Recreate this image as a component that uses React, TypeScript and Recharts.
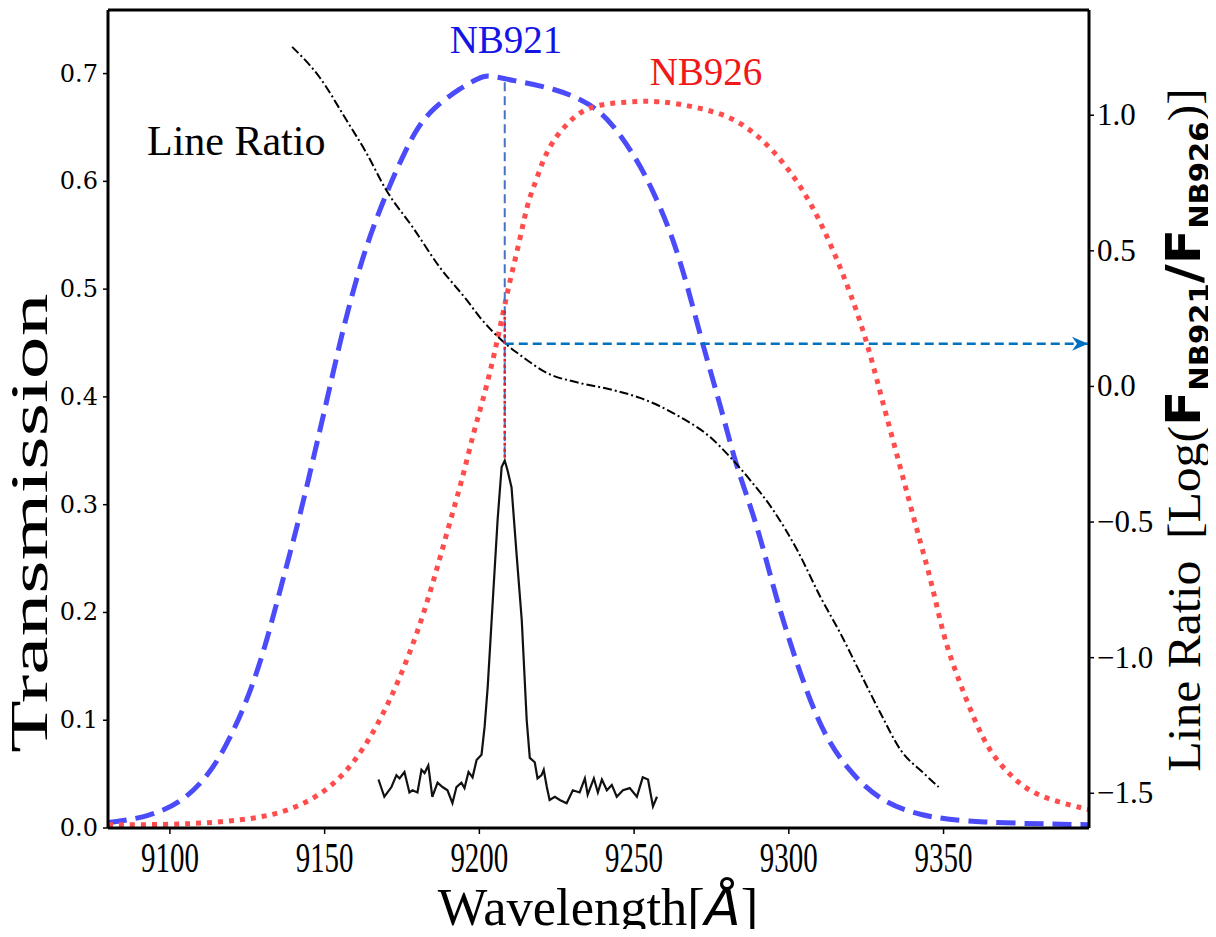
import React from 'react';
import { ComposedChart, Line, XAxis, YAxis, ReferenceLine, Customized } from 'recharts';

// ---------- data ----------
const xTicks = [9100, 9150, 9200, 9250, 9300, 9350];
const leftTicks = [0, 0.1, 0.2, 0.3, 0.4, 0.5, 0.6, 0.7];
const rightTicks = [-1.5, -1.0, -0.5, 0, 0.5, 1.0];

const nb921Wave = [9080, 9093, 9104, 9113, 9120, 9126, 9131, 9136, 9142, 9147, 9151, 9155, 9162, 9170, 9176, 9180, 9185, 9194, 9200, 9202.5, 9210, 9225, 9236, 9243, 9251, 9256, 9262, 9267, 9272, 9279, 9283, 9290, 9296, 9304, 9311, 9319, 9329, 9342, 9360, 9397];
const nb921Trans = [0.005, 0.010, 0.024, 0.050, 0.086, 0.126, 0.170, 0.225, 0.289, 0.351, 0.400, 0.452, 0.530, 0.590, 0.628, 0.650, 0.668, 0.687, 0.696, 0.699, 0.694, 0.686, 0.672, 0.654, 0.620, 0.592, 0.552, 0.506, 0.450, 0.381, 0.335, 0.280, 0.211, 0.140, 0.088, 0.054, 0.026, 0.011, 0.005, 0.003];

const nb926Wave = [9080, 9099, 9115, 9131, 9142, 9152.5, 9161, 9168, 9174, 9180, 9185, 9190, 9195, 9198, 9201, 9204.4, 9206.5, 9209.2, 9211, 9213, 9214.6, 9216.3, 9218.4, 9220.6, 9223.3, 9226, 9229, 9232, 9236, 9241, 9249, 9258, 9270, 9282, 9292, 9300.5, 9308, 9314.4, 9320, 9325.4, 9329.6, 9336, 9341.6, 9346, 9350, 9354.5, 9360, 9365, 9372, 9380, 9397];
const nb926Trans = [0.003, 0.003, 0.005, 0.010, 0.020, 0.038, 0.066, 0.100, 0.137, 0.181, 0.227, 0.279, 0.329, 0.366, 0.395, 0.434, 0.462, 0.499, 0.521, 0.545, 0.567, 0.586, 0.601, 0.620, 0.635, 0.646, 0.655, 0.663, 0.669, 0.672, 0.674, 0.675, 0.669, 0.660, 0.638, 0.610, 0.576, 0.536, 0.496, 0.450, 0.403, 0.335, 0.274, 0.230, 0.177, 0.140, 0.100, 0.070, 0.047, 0.029, 0.017];

const ratioWave = [9139.5, 9148.3, 9157, 9163.5, 9169.9, 9178.4, 9187.1, 9195.9, 9200.1, 9208.2, 9214, 9221.8, 9232.4, 9243.1, 9251.9, 9264.8, 9274.5, 9281, 9287.5, 9294.9, 9302.7, 9310.2, 9316.6, 9323.1, 9329.6, 9336.1, 9343.5, 9348.4];
const ratioValue = [1.252, 1.141, 0.983, 0.861, 0.724, 0.588, 0.441, 0.319, 0.256, 0.160, 0.109, 0.050, 0.013, -0.013, -0.042, -0.112, -0.186, -0.260, -0.345, -0.455, -0.603, -0.776, -0.909, -1.057, -1.204, -1.340, -1.425, -1.477];

const specWave = [9167.4, 9169.3, 9171.6, 9173.2, 9174.2, 9175.8, 9177.4, 9178.4, 9180.0, 9181.3, 9182.3, 9183.5, 9184.8, 9186.5, 9188.1, 9189.7, 9191.3, 9192.6, 9194.2, 9195.2, 9196.5, 9197.8, 9199.1, 9200.7, 9201.7, 9202.7, 9204.3, 9205.9, 9207.2, 9208.2, 9209.1, 9210.4, 9212.0, 9213.7, 9215.3, 9216.3, 9217.9, 9218.8, 9220.1, 9220.8, 9221.8, 9222.7, 9224.4, 9226.0, 9228.2, 9230.2, 9232.4, 9234.1, 9235.0, 9237.0, 9238.3, 9239.6, 9241.2, 9242.8, 9244.4, 9246.4, 9248.6, 9250.9, 9252.8, 9254.5, 9256.1, 9257.4];
const specFlux = [0.045, 0.029, 0.038, 0.049, 0.046, 0.052, 0.033, 0.035, 0.033, 0.054, 0.051, 0.058, 0.029, 0.042, 0.038, 0.035, 0.023, 0.038, 0.042, 0.037, 0.052, 0.047, 0.063, 0.068, 0.094, 0.131, 0.209, 0.286, 0.335, 0.341, 0.332, 0.316, 0.255, 0.193, 0.100, 0.065, 0.061, 0.046, 0.049, 0.054, 0.038, 0.026, 0.029, 0.026, 0.023, 0.035, 0.033, 0.046, 0.031, 0.046, 0.033, 0.045, 0.035, 0.040, 0.029, 0.035, 0.037, 0.029, 0.047, 0.045, 0.020, 0.029];

const markerWave = [9208.2, 9208.2];
const markerBlue = [0.692, 0.342];
const markerRed = [0.48, 0.342];
const arrowWave = [9208.2, 9397];
const arrowRatio = [0.157, 0.157];

const zip = (xs: number[], ys: number[]) => xs.map((x, i) => ({ x, y: ys[i] }));

const nb921Data = zip(nb921Wave, nb921Trans);
const nb926Data = zip(nb926Wave, nb926Trans);
const ratioData = zip(ratioWave, ratioValue);
const specData = zip(specWave, specFlux);
const markerBlueData = zip(markerWave, markerBlue);
const markerRedData = zip(markerWave, markerRed);
const arrowData = zip(arrowWave, arrowRatio);

const X_DOMAIN: [number, number] = [9080, 9397];
const LEFT_DOMAIN: [number, number] = [0, 0.759];
const RIGHT_DOMAIN: [number, number] = [-1.628, 1.388];

const SERIF = "'Liberation Serif', 'Times New Roman', serif";

// ---------- ticks ----------
const XTick = (props: any) => {
  const { x, y, payload } = props;
  return (
    <text
      x={0}
      y={0}
      transform={`translate(${x},${y + 36}) scale(0.69,1)`}
      textAnchor="middle"
      fontFamily={SERIF}
      fontSize={42}
      fill="#000"
    >
      {payload.value}
    </text>
  );
};

const LeftTick = (props: any) => {
  const { x, y, payload } = props;
  return (
    <text x={x - 5} y={y + 8} textAnchor="end" fontFamily="'DejaVu Serif', serif" fontSize={24} fill="#000">
      {Number(payload.value).toFixed(1)}
    </text>
  );
};

const fmtRight = (v: number) => (v < 0 ? '\u2212' + Math.abs(v).toFixed(1) : v.toFixed(1));

const RightTick = (props: any) => {
  const { x, y, payload } = props;
  return (
    <text x={x + 3} y={y + 10} textAnchor="start" fontFamily={SERIF} fontSize={31} fill="#000">
      {fmtRight(Number(payload.value))}
    </text>
  );
};

const ArrowDot = (props: any) => {
  const { cx, cy, index } = props;
  if (index !== arrowData.length - 1) return <g key={`a${index}`} />;
  return <path key={`a${index}`} d={`M${cx - 1},${cy} l-16,-7 l5,7 l-5,7 z`} fill="#0070c0" />;
};

const Annotations = () => (
  <g>
    <text x={147} y={155} fontFamily={SERIF} fontSize={42} fill="#000">Line Ratio</text>
    <text x={506} y={53} textAnchor="middle" fontFamily={SERIF} fontSize={39} fill="#1414e6">NB921</text>
    <text x={706} y={85} textAnchor="middle" fontFamily={SERIF} fontSize={39} fill="#f01818">NB926</text>
    <text
      transform="translate(47,523) rotate(-90) scale(1.65,1)"
      textAnchor="middle"
      fontFamily={SERIF}
      fontSize={52}
      fill="#000"
    >
      Transmission
    </text>
    <text
      transform="translate(598,925) scale(1.01,1)"
      textAnchor="middle"
      fontFamily={SERIF}
      fontSize={52}
      fill="#000"
    >
      Wavelength[<tspan fontFamily="'DejaVu Sans', sans-serif" fontStyle="italic">Å</tspan>]
    </text>
    <text
      transform="translate(1200,430) rotate(-90) scale(1.08,1)"
      textAnchor="middle"
      fontFamily={SERIF}
      fontSize={46}
      fill="#000"
    >
      <tspan>Line Ratio</tspan>
      <tspan dx={20}>[Log(</tspan>
      <tspan fontFamily="'DejaVu Sans', sans-serif" fontWeight="bold" fontSize={48}>F</tspan>
      <tspan fontFamily="'DejaVu Sans', sans-serif" fontWeight="bold" fontSize={27} dy={9}>NB921</tspan>
      <tspan fontFamily="'DejaVu Sans', sans-serif" fontWeight="bold" fontSize={48} dy={-9}>/F</tspan>
      <tspan fontFamily="'DejaVu Sans', sans-serif" fontWeight="bold" fontSize={27} dy={9}>NB926</tspan>
      <tspan dy={-9}>)]</tspan>
    </text>
  </g>
);

export default function App() {
  return (
    <div style={{ margin: -8, width: 1216, height: 937, background: '#fff' }}>
      <ComposedChart width={1216} height={937} margin={{ top: 10, right: 0, bottom: 0, left: 0 }}>
        <XAxis
          type="number"
          dataKey="x"
          domain={X_DOMAIN}
          allowDataOverflow
          ticks={xTicks}
          height={109}
          tick={<XTick />}
          tickSize={6}
          tickLine={{ stroke: '#000', strokeWidth: 1.5 }}
          axisLine={{ stroke: '#000', strokeWidth: 3 }}
        />
        <YAxis
          yAxisId="left"
          type="number"
          dataKey="y"
          domain={LEFT_DOMAIN}
          allowDataOverflow
          ticks={leftTicks}
          width={108}
          tick={<LeftTick />}
          tickSize={5}
          tickMargin={0}
          tickLine={{ stroke: '#000', strokeWidth: 1.5 }}
          axisLine={{ stroke: '#000', strokeWidth: 3 }}
        />
        <YAxis
          yAxisId="right"
          orientation="right"
          type="number"
          dataKey="y"
          domain={RIGHT_DOMAIN}
          allowDataOverflow
          ticks={rightTicks}
          width={127}
          tick={<RightTick />}
          tickSize={5}
          tickMargin={0}
          tickLine={{ stroke: '#000', strokeWidth: 1.5 }}
          axisLine={{ stroke: '#000', strokeWidth: 3 }}
        />
        <ReferenceLine yAxisId="left" y={LEFT_DOMAIN[1]} stroke="#000" strokeWidth={3} />

        <Line
          yAxisId="left"
          data={nb921Data}
          dataKey="y"
          type="basis"
          stroke="#4b4bfa"
          strokeWidth={5}
          strokeDasharray="19 9"
          dot={false}
          activeDot={false}
          isAnimationActive={false}
        />
        <Line
          yAxisId="left"
          data={nb926Data}
          dataKey="y"
          type="basis"
          stroke="#ff4d4d"
          strokeWidth={5}
          strokeDasharray="5 6"
          dot={false}
          activeDot={false}
          isAnimationActive={false}
        />
        <Line
          yAxisId="right"
          data={ratioData}
          dataKey="y"
          type="monotone"
          stroke="#000"
          strokeWidth={2}
          strokeDasharray="9 3 2 3"
          dot={false}
          activeDot={false}
          isAnimationActive={false}
        />
        <Line
          yAxisId="left"
          data={specData}
          dataKey="y"
          type="linear"
          stroke="#111"
          strokeWidth={2.2}
          dot={false}
          activeDot={false}
          isAnimationActive={false}
        />
        <Line
          yAxisId="left"
          data={markerBlueData}
          dataKey="y"
          type="linear"
          stroke="#4472c4"
          strokeWidth={2}
          strokeDasharray="9 5"
          dot={false}
          activeDot={false}
          isAnimationActive={false}
        />
        <Line
          yAxisId="left"
          data={markerRedData}
          dataKey="y"
          type="linear"
          stroke="#e0202a"
          strokeWidth={2.5}
          strokeDasharray="3 3"
          dot={false}
          activeDot={false}
          isAnimationActive={false}
        />
        <Line
          yAxisId="right"
          data={arrowData}
          dataKey="y"
          type="linear"
          stroke="#0070c0"
          strokeWidth={2.5}
          strokeDasharray="9 5"
          dot={<ArrowDot />}
          activeDot={false}
          isAnimationActive={false}
        />
        <Customized component={<Annotations />} />
      </ComposedChart>
    </div>
  );
}
